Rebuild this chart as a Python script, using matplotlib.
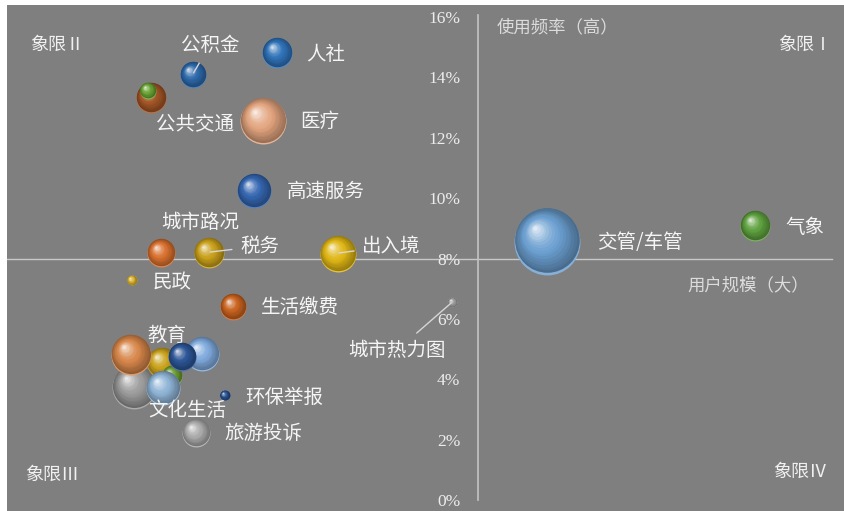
"""
Quadrant bubble chart: usage frequency vs. user scale of city services.
"""

import numpy as np
import matplotlib
matplotlib.use("Agg")
import matplotlib.pyplot as plt
from matplotlib.colors import to_rgb
from matplotlib.transforms import offset_copy

plt.rcParams['font.family'] = ['Noto Sans CJK SC', 'DejaVu Sans']

# ---- data -----------------------------------------------------------------
names = ['旅游投诉', '环保举报', '', '', '', '', '教育', '文化生活', '',
         '生活缴费', '民政', '城市路况', '税务', '出入境', '城市热力图',
         '高速服务', '医疗', '公共交通', '', '公积金', '人社',
         '交管/车管', '气象']
user_scale = [22.6, 26.0, 15.2, 18.5, 19.7, 23.3, 14.8, 18.6, 20.9,
              27.0, 14.9, 18.4, 24.1, 39.5, 53.2,
              29.5, 30.6, 17.2, 16.8, 22.2, 32.3,
              64.5, 89.4]
frequency = [2.25, 3.48, 3.78, 4.57, 4.14, 4.87, 4.84, 3.74, 4.77,
             6.43, 7.29, 8.21, 8.21, 8.18, 6.56,
             10.27, 12.59, 13.35, 13.58, 14.11, 14.84,
             8.61, 9.11]
volume = [19.1, 2.4, 47.0, 22.0, 9.8, 28.2, 39.0, 28.2, 19.1,
          16.5, 2.4, 19.1, 22.0, 31.6, 2.4,
          28.2, 51.7, 22.0, 6.25, 16.5, 22.0,
          106.0, 22.0]
yticks = [0, 2, 4, 6, 8, 10, 12, 14, 16]

# ---- styles ---------------------------------------------------------------
colors = {
    '旅游投诉': '#a9a9a9', '环保举报': '#27508f', '教育': '#d7864a',
    '文化生活': '#8fb4d6', '生活缴费': '#c8621f', '民政': '#d9b12c',
    '城市路况': '#d8702e', '税务': '#c9a01a', '出入境': '#dfb615',
    '城市热力图': '#9c9c9c', '高速服务': '#3466b0', '医疗': '#e2a47f',
    '公共交通': '#a35526', '公积金': '#2d69aa', '人社': '#2f72b8',
    '交管/车管': '#6b9fd0', '气象': '#5ea03e',
}
extra_colors = ['#9a9a9a', '#c9a21c', '#6a9a2e', '#7ea9dc', '#2c5596', '#6aa533']

# label offsets in pixels (dx, dy) and whether a leader line is drawn
label_offsets = {
    '人社': (48, -2, False), '公积金': (17, 29, True), '公共交通': (44, -28, False),
    '医疗': (57, -1, False), '高速服务': (72, -1, False), '城市路况': (39, 30, False),
    '税务': (51, 6, True), '出入境': (54, 7, True), '民政': (40, -3, False),
    '生活缴费': (67, -2, False), '城市热力图': (-55, -48, True), '教育': (36, 19, False),
    '文化生活': (25, -23, False), '环保举报': (60, -2, False), '旅游投诉': (67, -1, False),
    '交管/车管': (93, -2, False), '气象': (50, -2, False),
}

W, H = 844, 511
fig = plt.figure(figsize=(W / 100, H / 100), dpi=100, facecolor='white')
ax = fig.add_axes([7 / W, 0, (W - 7) / W, (H - 5) / H])
ax.set_facecolor('#7f7f7f')
ax.set_xlim(0, 100)
ax.set_ylim(-0.364, 16.40)

for s in ['top', 'right', 'bottom']:
    ax.spines[s].set_visible(False)
ax.spines['left'].set_position(('data', 56.3))
ax.spines['left'].set_color('#c4c4c4')
ax.spines['left'].set_linewidth(1.2)
ax.spines['left'].set_bounds(0, 16.07)
ax.set_xticks([])
ax.set_yticks(yticks)
ax.set_yticklabels([f'{v}%' for v in yticks], family='Liberation Serif',
                   fontsize=12.5, color='#ececec')
ax.tick_params(axis='y', length=0, pad=13)
ax.axhline(8, xmin=0, xmax=(832 - 7) / (W - 7), color='#c8c8c8', lw=1, zorder=1)


def sphere(x, y, r, color, z):
    base = np.array(to_rgb(color))
    dark = base * 0.68
    light = base + (1 - base) * 0.78
    rim = base + (1 - base) * 0.18
    tr = offset_copy(ax.transData, fig=fig, x=0, y=-0.05 * r, units='dots')
    ax.scatter([x], [y], s=(2 * r * 0.72) ** 2, color=rim, lw=0, transform=tr, zorder=z)
    n = 16
    for k in range(n):
        t = k / (n - 1)
        rr = r * (1 - 0.93 * t) * (0.98 if k == 0 else 1)
        off = 0.36 * r * t
        if t < 0.45:
            c = dark + (base - dark) * (t / 0.45)
        else:
            c = base + (light - base) * ((t - 0.45) / 0.55) ** 1.4
        tr = offset_copy(ax.transData, fig=fig, x=-off, y=off, units='dots')
        ax.scatter([x], [y], s=(2 * rr * 0.72) ** 2, color=c, lw=0,
                   transform=tr, zorder=z)


ei = 0
for i, (name, x, y, v) in enumerate(zip(names, user_scale, frequency, volume)):
    r = 3.2 * np.sqrt(v)
    if name in colors:
        col = colors[name]
    else:
        col = extra_colors[ei]
        ei += 1
    sphere(x, y, r, col, 2 + i)

for name, x, y in zip(names, user_scale, frequency):
    if not name:
        continue
    dx, dy, leader = label_offsets[name]
    props = None
    if leader:
        props = dict(arrowstyle='-', color='#d6d6d6', lw=1, shrinkA=4, shrinkB=1)
    ax.annotate(name, xy=(x, y), xytext=(dx, dy), textcoords='offset pixels',
                ha='center', va='center', fontsize=14, color='#f5f5f5',
                arrowprops=props, zorder=100)


# quadrant labels and axis titles (figure pixel positions)
def ftext(px, py, s, **kw):
    fig.text(px / W, 1 - py / H, s, ha='center', va='center', **kw)


ftext(57, 45, '象限Ⅱ', fontsize=13, color='#f0f0f0')
ftext(805, 45, '象限Ⅰ', fontsize=13, color='#f0f0f0')
ftext(52, 475, '象限Ⅲ', fontsize=13, color='#f0f0f0')
ftext(800, 472, '象限Ⅳ', fontsize=13, color='#f0f0f0')
ftext(557, 27, '使用频率（高）', fontsize=12.5, color='#dcdcdc')
ftext(748, 285, '用户规模（大）', fontsize=12.5, color='#dcdcdc')

fig.savefig('out.png', dpi=100, facecolor='white')
